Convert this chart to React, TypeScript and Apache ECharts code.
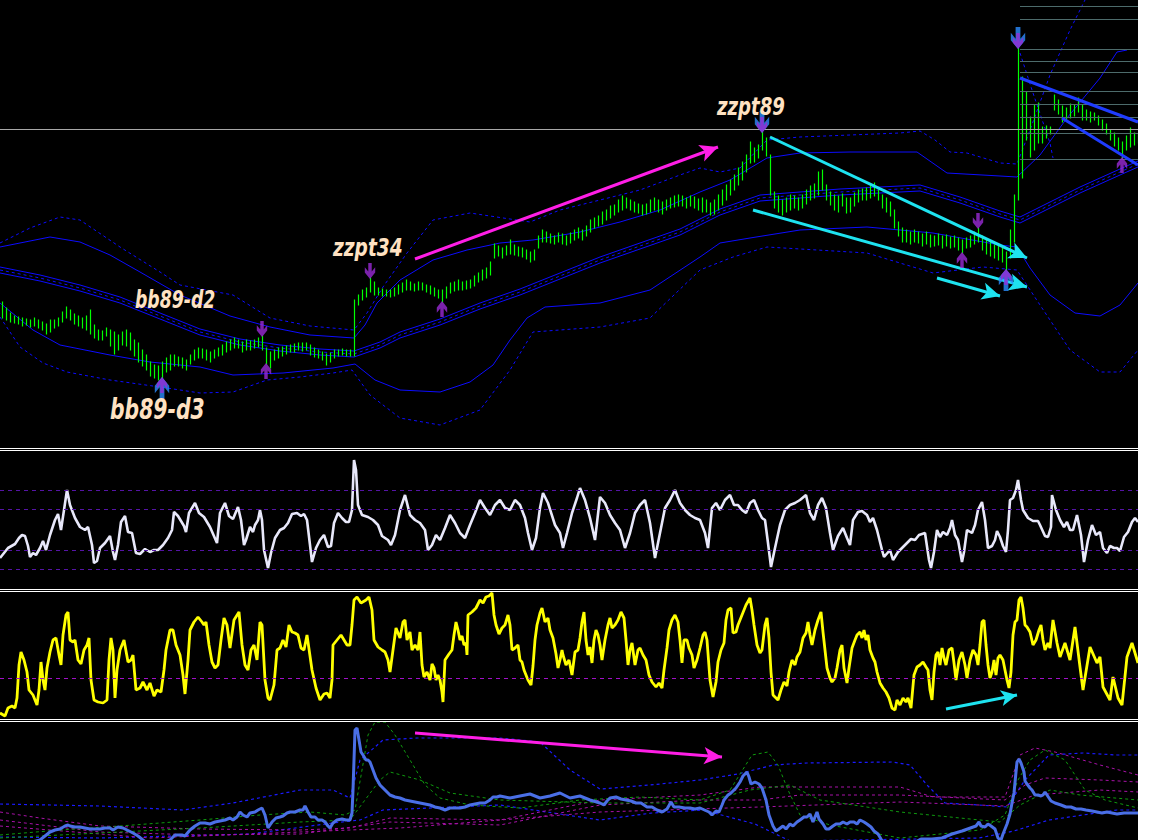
import React, { useEffect, useRef } from "react";
import * as echarts from "echarts";

// ---------- price bars: one bar every 4 time units (bar i sits at t = 2 + 4i) ----------
const barLows = [
  132,130,128,127,126,124,125,123,124,122,
  120,116,118,122,124,128,132,130,126,124,
  122,120,116,112,110,110,114,104,96,100,
  105,104,100,94,88,84,80,74,72,70,
  72,78,80,84,84,82,80,86,90,92,
  92,90,88,92,94,95,98,100,102,102,
  98,100,100,102,103,100,86,82,90,92,
  94,96,98,98,100,99,100,95,93,92,
  90,85,88,92,94,95,94,94,94,145,
  150,153,158,155,155,154,154,153,154,156,
  158,160,160,159,160,160,158,156,154,152,
  148,152,157,159,160,160,161,162,164,168,
  170,172,175,192,194,192,195,196,195,194,
  193,191,188,190,202,208,208,207,206,208,
  206,205,207,210,212,210,214,218,222,224,
  226,230,232,235,238,240,242,240,238,237,
  235,236,238,240,238,236,240,242,243,244,
  244,242,244,242,240,238,238,235,236,240,
  245,250,255,260,265,270,278,287,288,292,
  300,294,255,242,238,235,238,240,242,240,
  242,246,250,252,255,260,250,245,240,238,
  244,237,238,244,248,250,250,252,254,250,
  242,238,234,222,214,208,208,206,208,207,
  204,206,203,204,205,202,204,202,203,200,
  197,202,203,206,208,200,196,194,192,190,
  188,180,192,208,250,272,310,293,300,307,
  307,312,316,340,336,328,330,332,334,338,
  330,330,328,330,325,320,316,310,304,300,
  292,300,303,305,307,
];
const barHighs = [
  148,142,137,134,133,132,131,130,132,130,
  128,126,130,130,132,138,143,140,136,134,
  132,134,140,125,120,119,122,120,118,115,
  118,120,117,110,107,100,95,88,85,84,
  88,92,95,95,93,92,90,95,100,102,
  101,100,98,100,102,105,108,110,112,110,
  108,110,109,110,112,114,102,98,100,102,
  103,104,105,106,107,107,107,105,102,100,
  98,96,97,100,100,101,100,100,150,155,
  160,162,172,168,162,161,160,160,162,165,
  167,170,168,166,168,167,165,164,162,160,
  160,163,167,168,170,168,169,170,174,177,
  180,182,188,206,204,202,204,210,205,203,
  202,200,198,200,214,220,218,216,214,217,
  216,214,217,220,222,220,224,230,232,234,
  238,240,244,245,250,254,252,250,248,246,
  245,246,250,252,250,248,250,252,254,255,
  254,252,254,253,251,252,250,247,250,255,
  260,265,270,275,282,288,295,308,302,305,
  318,312,295,258,254,250,252,255,254,252,
  255,260,264,266,278,280,265,258,255,254,
  256,252,252,257,260,261,262,264,267,260,
  255,252,248,240,228,222,220,218,220,218,
  216,218,215,214,216,214,215,213,214,212,
  210,212,214,218,222,214,210,208,205,204,
  202,198,220,255,402,373,358,333,345,347,
  323,324,323,355,350,344,342,346,345,352,
  345,340,338,337,334,330,326,320,317,312,
  308,314,322,317,316,
];

const fractalDownIdx = [65, 92, 190, 244, 254];
const fractalUpIdx = [40, 66, 110, 240, 251, 280];
const fractalDownStrongIdx = [190, 254];
const fractalUpStrongIdx = [40, 251];

// ---------- Bollinger 89 bands on price ----------
const bandUpper3 = [[0,207],[30,222],[60,233],[80,230],[120,203],[160,178],[180,165],[233,155],[270,132],[310,124],[354,120],[367,137],[383,163],[407,197],[433,230],[470,237],[530,228],[560,240],[600,250],[640,260],[680,275],[700,282],[720,278],[740,282],[767,310],[800,313],[850,315],[900,317],[920,319],[935,310],[950,298],[967,297],[1000,287],[1017,286],[1030,320],[1050,375],[1070,420],[1085,450]];
const bandUpper2 = [[0,203],[50,213],[80,208],[110,195],[140,178],[180,155],[230,134],[270,123],[310,115],[354,112],[365,125],[377,147],[400,170],[433,190],[467,200],[500,207],[533,210],[580,218],[620,228],[660,240],[700,258],[730,270],[767,292],[800,297],[850,298],[917,298],[947,277],[1000,274],[1017,273],[1040,295],[1067,332],[1100,372],[1117,398],[1127,400]];
const bandMidTop = [[0,183],[40,175],[80,165],[120,153],[160,137],[200,121],[240,111],[280,105],[320,101],[354,99],[380,108],[400,118],[440,131],[480,147],[520,161],[560,177],[600,193],[640,207],[680,221],[720,241],[760,255],[800,258],[840,261],[880,263],[920,265],[960,253],[1000,239],[1020,233],[1040,243],[1060,253],[1080,263],[1100,272],[1120,281],[1138,289]];
const bandMid = [[0,180],[40,172],[80,162],[120,150],[160,134],[200,118],[240,108],[280,102],[320,98],[354,96],[380,105],[400,115],[440,128],[480,144],[520,158],[560,174],[600,190],[640,204],[680,218],[720,238],[760,252],[800,255],[840,258],[880,260],[920,262],[960,250],[1000,236],[1020,230],[1040,240],[1060,250],[1080,260],[1100,269],[1120,278],[1138,286]];
const bandMidBottom = [[0,177],[40,169],[80,159],[120,147],[160,131],[200,115],[240,105],[280,99],[320,95],[354,93],[380,102],[400,112],[440,125],[480,141],[520,155],[560,171],[600,187],[640,201],[680,215],[720,235],[760,249],[800,252],[840,255],[880,257],[920,259],[960,247],[1000,233],[1020,227],[1040,237],[1060,247],[1080,257],[1100,266],[1120,275],[1138,283]];
const bandLower2 = [[0,147],[33,120],[60,105],[110,95],[150,88],[200,83],[233,75],[283,77],[333,82],[355,86],[375,70],[400,60],[440,58],[470,68],[493,85],[510,110],[527,132],[545,143],[600,147],[650,160],[700,193],[720,207],[750,212],[800,220],[867,223],[933,217],[1000,205],[1017,203],[1030,182],[1050,155],[1075,137],[1100,134],[1120,145],[1138,167]];
const bandLower3 = [[0,133],[20,103],[43,87],[67,78],[110,70],[167,62],[200,57],[233,58],[267,70],[300,73],[333,77],[352,80],[370,55],[400,32],[440,25],[480,40],[510,80],[533,118],[600,123],[650,132],[700,180],[733,193],[767,203],[867,197],[933,177],[983,183],[1017,180],[1040,145],[1070,100],[1100,78],[1120,78],[1138,100]];
const bandShort = [[1020,397],[1033,357],[1050,307],[1053,292]];

// ---------- levels and drawings on price ----------
const refLevel = 321;
const fibLevels = [444, 431, 401, 389, 378, 359, 346, 333, 317, 291];
const fibRange = [1020, 1138];
const magentaTrend = [[415, 191], [718, 303]];
const cyanTrends = [
  [[770, 313], [1027, 192]],
  [[753, 240], [1027, 163]],
  [[937, 172], [1000, 154]],
];
const blueChannel = [
  [[1020, 372], [1138, 328]],
  [[1062, 332], [1138, 285]],
];

// ---------- oscillator 1 (lavender) ----------
const osc1 = [[0,30],[8,40],[15,44],[19,50],[22,53],[25,52],[28,42],[30,31],[33,35],[36,33],[40,40],[43,47],[46,38],[50,53],[55,68],[58,74],[61,58],[64,78],[67,98],[70,83],[75,70],[80,61],[85,58],[88,61],[92,43],[94,25],[97,27],[100,40],[105,45],[110,52],[113,36],[115,28],[118,43],[121,66],[125,72],[128,56],[132,55],[136,35],[140,34],[145,39],[150,36],[154,38],[158,38],[163,43],[168,50],[172,58],[174,76],[178,72],[184,62],[186,56],[189,75],[195,85],[199,75],[204,71],[210,61],[217,45],[220,75],[225,85],[229,72],[233,69],[238,81],[241,68],[244,43],[246,48],[250,61],[253,56],[255,63],[258,68],[260,78],[262,68],[264,38],[268,20],[271,35],[275,50],[280,58],[284,60],[288,65],[292,74],[297,75],[301,72],[304,74],[307,68],[310,43],[312,26],[316,40],[320,48],[324,53],[328,41],[331,42],[334,65],[338,75],[342,70],[346,66],[349,66],[352,78],[354,128],[356,118],[358,83],[362,73],[368,71],[373,68],[378,63],[382,52],[388,48],[391,43],[395,53],[400,78],
  [405,93],[410,73],[415,68],[420,65],[425,58],[428,38],[432,43],[436,53],[440,48],[445,60],[450,73],[455,65],[460,55],[465,50],[470,63],[475,75],[480,88],[485,80],[490,73],[495,83],[500,88],[505,80],[510,78],[515,88],[520,83],[525,70],[528,55],[532,38],[536,50],[540,80],[543,95],[548,85],[555,63],[560,55],[563,40],[567,55],[572,75],[577,90],[580,100],[585,88],[590,70],[595,48],[600,91],[605,85],[610,73],[615,65],[620,58],[625,40],[630,55],[635,75],[640,83],[645,88],[650,65],[655,30],[660,55],[665,80],[670,88],[675,98],[680,85],[685,78],[690,73],[695,70],[700,68],[705,55],[708,40],[712,80],[716,85],[720,78],[725,88],[730,93],[734,83],[738,83],[742,78],[746,75],[750,85],[754,88],[758,78],[762,70],[765,68],[768,45],[771,21],[775,40],[780,63],[785,78],[790,83],[795,85],[800,88],[806,93],[810,75],[814,68],[818,83],[822,90],[826,80],[830,55],[833,38],[838,52],[843,60],[847,50],
  [850,43],[853,68],[858,76],[862,77],[867,73],[870,66],[873,70],[877,58],[882,38],[884,31],[890,38],[893,28],[898,36],[905,43],[911,49],[915,48],[919,53],[925,55],[929,28],[931,20],[934,36],[937,58],[940,51],[943,56],[947,53],[950,60],[952,68],[955,53],[958,48],[962,26],[964,36],[967,58],[972,55],[975,63],[978,78],[982,86],[985,68],[988,40],[992,42],[995,48],[997,57],[1000,51],[1003,42],[1006,36],[1008,58],[1010,88],[1013,90],[1016,98],[1018,108],[1021,88],[1023,78],[1028,70],[1033,67],[1038,67],[1040,63],[1045,52],[1048,51],[1051,61],[1052,93],[1056,78],[1060,68],[1064,61],[1067,66],[1070,58],[1073,58],[1077,73],[1081,53],[1084,26],[1088,48],[1092,63],[1096,53],[1100,56],[1103,40],[1107,35],[1110,42],[1114,40],[1117,40],[1120,37],[1124,51],[1128,56],[1132,66],[1135,70],[1138,66]];
const osc1Levels = [98, 79, 38, 19];

// ---------- oscillator 2 (yellow) ----------
const osc2 = [[0,5],[5,2],[8,10],[12,12],[15,10],[17,20],[19,53],[21,66],[24,58],[27,46],[29,28],[33,23],[37,13],[39,28],[41,56],[43,38],[45,28],[47,50],[50,66],[53,78],[56,80],[59,63],[61,53],[63,83],[66,103],[68,106],[70,78],[73,76],[75,78],[78,58],[81,54],[84,68],[87,73],[89,80],[91,38],[94,18],[98,16],[103,15],[107,18],[109,58],[111,80],[113,68],[115,20],[117,48],[120,68],[124,78],[128,56],[131,58],[133,63],[136,28],[140,30],[143,36],[147,28],[150,35],[154,22],[157,28],[161,26],[164,48],[166,68],[170,88],[173,88],[176,73],[180,63],[183,43],[185,24],[188,58],[190,88],[194,96],[198,101],[202,96],[204,93],[206,96],[209,73],[212,56],[215,50],[218,53],[221,78],[224,100],[227,93],[230,70],[234,98],[239,106],[242,73],[245,53],[248,48],[251,68],[254,73],[257,58],[260,96],[262,93],[265,38],[268,20],[270,18],[274,33],[277,68],[280,70],[283,78],[286,71],[289,93],[292,86],[295,85],[298,83],[301,70],[304,68],[307,83],[312,48],[316,30],[320,18],[324,24],[327,25],[330,20],[332,38],[333,73],[337,78],[341,83],[344,78],[347,73],[350,73],[352,93],[354,118],[357,121],[361,115],[366,118],[369,121],[372,108],[374,78],[378,71],[382,68],[385,66],[388,58],[390,46],[393,68],[396,90],[400,80],
  [403,96],[405,98],[407,78],[410,86],[412,68],[415,73],[418,68],[420,86],[422,53],[424,41],[427,46],[430,38],[432,54],[434,50],[436,38],[438,43],[440,38],[442,26],[443,16],[445,58],[449,64],[452,68],[454,83],[456,96],[458,88],[460,78],[462,82],[464,73],[466,75],[467,63],[468,103],[472,106],[476,110],[480,118],[483,115],[486,121],[489,122],[492,125],[494,103],[496,93],[499,84],[502,90],[505,93],[508,103],[510,93],[512,68],[515,70],[518,73],[520,58],[522,56],[524,48],[526,43],[528,38],[531,33],[533,52],[535,78],[537,93],[540,105],[542,110],[545,96],[548,100],[550,88],[553,80],[556,64],[558,50],[560,58],[562,68],[563,63],[566,53],[569,58],[572,43],[575,66],[578,68],[580,80],[582,96],[584,106],[586,78],[588,63],[590,71],[592,55],[594,78],[596,88],[598,83],[600,73],[602,58],[605,78],[608,93],[610,100],[612,90],[615,93],[618,98],[621,106],[624,100],[626,78],[628,53],[630,68],[632,75],[635,53],[638,68],[640,70],[643,63],[646,58],[649,43],[652,36],[656,31],[659,35],[662,30],[664,48],[667,70],[669,88],[672,98],[675,103],[678,96],[680,78],[682,55],[684,78],[687,78],[689,70],[692,63],[694,50],[697,58],[700,70],[703,83],[705,86],[707,78],[710,38],[713,21],[716,36],[718,56],[721,68],[724,75],[726,98],[728,108],[731,110],[733,85],[736,86],[738,93],[742,103],[746,113],[750,120],[752,108],[754,93],[757,73],[760,65],[762,68],[765,93],[767,100],[769,80],[771,46],[773,23],[776,20],[778,18],[781,28],[784,36],[787,32],[789,46],[792,58],[795,53],[797,61],[800,66],
  [803,80],[806,85],[808,96],[810,83],[812,73],[815,88],[818,98],[821,106],[823,86],[825,68],[827,50],[830,40],[832,36],[835,40],[837,50],[840,68],[842,73],[844,50],[847,35],[849,50],[852,70],[855,78],[857,83],[860,86],[862,80],[864,88],[866,78],[868,83],[870,68],[873,60],[875,56],[877,46],[880,35],[883,30],[886,26],[889,20],[892,10],[895,8],[897,18],[900,13],[903,20],[906,16],[908,20],[911,10],[914,43],[917,51],[920,53],[923,56],[926,51],[928,48],[930,28],[932,18],[934,46],[936,63],[938,66],[940,53],[942,70],[944,60],[946,53],[949,68],[952,70],[954,55],[956,38],[959,58],[962,66],[965,53],[967,40],[970,58],[973,68],[976,63],[978,53],[980,73],[982,96],[984,98],[986,73],[988,53],[990,40],[992,46],[994,58],[996,43],[998,60],[1000,63],[1003,58],[1005,48],[1007,38],[1009,30],[1011,46],[1013,83],[1015,96],[1017,98],[1019,118],[1021,121],[1023,110],[1025,93],[1027,91],[1030,86],[1033,73],[1036,78],[1039,88],[1041,93],[1043,78],[1045,68],[1048,75],[1050,70],[1053,98],[1057,75],[1060,61],[1065,75],[1070,58],[1075,91],[1080,51],[1083,28],[1090,71],[1097,55],[1100,61],[1103,31],[1110,18],[1113,41],[1118,20],[1122,13],[1127,61],[1132,75],[1138,55]];
const osc2Level = 40;
const cyanOsc2 = [[946, 9], [1017, 23]];

// ---------- volatility panel ----------
const vol = [[0,-8],[20,-5],[40,0],[45,4],[50,8],[55,10],[60,11],[65,14],[68,15],[70,14],[75,13],[80,13],[85,12],[90,11],[95,11],[100,11],[105,12],[110,12],[113,10],[118,13],[123,12],[127,10],[133,7],[138,4],[143,0],[150,-5],[160,-4],[170,0],[175,5],[182,5],[185,4],[190,10],[195,14],[200,17],[205,17],[210,16],[215,18],[220,19],[225,20],[230,22],[233,20],[237,23],[240,28],[243,25],[247,23],[250,27],[255,28],[258,30],[262,32],[265,25],[268,12],[272,18],[276,22],[280,23],[283,24],[287,27],[290,28],[295,28],[300,30],[303,30],[305,34],[308,28],[311,23],[315,23],[318,20],[322,20],[325,18],[328,14],[330,12],[333,17],[337,20],[342,21],[346,20],[350,20],[352,27],[353,50],[354,80],[355,110],[357,112],[359,100],[361,88],[363,85],[366,80],[368,80],[370,78],[373,70],[376,62],[380,55],[385,50],[390,45],[395,43],[400,42],[405,40],[410,39],[415,38],[420,37],[425,36],[430,35],[435,33],[440,32],[445,30],[450,32],[455,32],[460,32],[465,33],[470,35],[475,36],[480,37],[485,37],[490,40],[493,43],[497,43],[500,44],[510,42],[520,44],[530,46],[540,42],[550,44],[560,47],[570,42],[580,44],[590,40],
  [600,37],[604,35],[607,39],[610,42],[616,43],[621,41],[626,40],[631,39],[636,37],[641,37],[647,33],[652,33],[657,30],[662,28],[667,31],[671,38],[674,33],[679,33],[685,32],[690,32],[695,31],[700,32],[709,28],[712,25],[716,29],[719,28],[722,35],[724,40],[728,45],[731,47],[736,52],[740,58],[743,64],[747,68],[749,63],[751,56],[755,58],[759,56],[762,52],[766,40],[769,25],[773,14],[776,9],[779,11],[783,14],[786,11],[790,16],[793,14],[797,18],[800,20],[804,23],[807,23],[810,26],[813,18],[817,28],[819,21],[823,16],[826,11],[829,11],[833,14],[836,16],[840,16],[843,18],[847,16],[850,18],[854,18],[857,16],[860,20],[864,18],[867,16],[871,13],[874,9],[878,6],[881,1],[885,-5],[910,-5],[921,1],[932,1],[942,2],[952,6],[962,9],[976,14],[979,18],[981,14],[985,13],[988,16],[991,14],[995,11],[998,2],[1001,0],[1003,6],[1007,16],[1010,26],[1012,37],[1014,47],[1016,68],[1017,78],[1019,81],[1021,77],[1024,68],[1025,59],[1027,56],[1030,52],[1032,50],[1035,45],[1038,45],[1041,44],[1043,45],[1045,48],[1049,42],[1051,39],[1055,37],[1061,35],[1066,33],[1071,33],[1076,31],[1081,31],[1086,30],[1092,29],[1102,27],[1107,28],[1112,27],[1117,26],[1124,27],[1131,27],[1138,27]];
const volBandUpper = [[0,36],[100,34],[183,30],[233,37],[300,50],[333,50],[350,42],[360,80],[383,100],[417,102],[500,102],[540,98],[570,70],[600,51],[650,55],[700,60],[738,66],[773,75],[807,77],[893,78],[910,75],[928,54],[945,37],[979,35],[1007,33],[1025,60],[1049,85],[1083,87],[1117,85],[1138,85]];
const volBandLower = [[0,3],[100,2],[250,6],[333,17],[360,20],[383,30],[500,35],[600,20],[652,27],[703,30],[755,16],[790,-1],[979,2],[1014,9],[1049,20],[1117,30],[1138,30]];
const volGreenFast = [[0,5],[60,10],[120,14],[200,20],[260,25],[310,28],[345,25],[355,30],[362,70],[368,105],[375,118],[385,118],[395,105],[410,80],[425,55],[440,42],[470,35],[520,32],[580,40],[640,43],[700,40],[730,50],[752,85],[768,88],[778,75],[788,50],[800,25],[830,15],[900,2],[980,10],[1005,25],[1018,60],[1030,80],[1045,90],[1065,80],[1085,50],[1105,40],[1138,32]];
const volGreenSlow = [[0,2],[100,7],[200,12],[300,18],[350,20],[365,40],[380,60],[390,68],[420,60],[450,47],[500,40],[600,37],[700,37],[750,50],[790,55],[820,40],[900,28],[1000,18],[1020,35],[1050,50],[1080,45],[1138,40]];
const volMagentaA = [[0,28],[40,22],[100,14],[200,11],[300,10],[350,12],[390,22],[500,20],[600,40],[700,45],[760,53],[800,53],[900,53],[933,43],[1005,43],[1020,85],[1035,92],[1055,88],[1100,75],[1138,65]];
const volMagentaB = [[0,20],[100,8],[200,5],[300,6],[390,18],[500,15],[600,35],[700,40],[760,40],[800,45],[900,45],[1005,40],[1025,55],[1045,62],[1100,60],[1138,58]];
const volMagentaC = [[0,14],[150,2],[400,12],[600,28],[760,33],[900,38],[1005,34],[1035,45],[1100,50],[1138,48]];
const magentaVol = [[415, 107], [722, 83]];

// ---------- text annotations ----------
const annotations = [
  { text: "zzpt34", x: 333, y: 247, size: 24, squeeze: 0.86 },
  { text: "zzpt89", x: 717, y: 106, size: 24, squeeze: 0.84 },
  { text: "bb89-d2", x: 135, y: 300, size: 24, squeeze: 0.8 },
  { text: "bb89-d3", x: 110, y: 409, size: 29, squeeze: 0.78 },
];

const DOWN_ARROW = "path://M4,0L8,0L8,8L12,4L12,9L6,15L0,9L0,4L4,8Z";
const UP_ARROW = "path://M4,15L8,15L8,7L12,11L12,6L6,0L0,6L0,11L4,7Z";

function barTime(i: number) {
  return 2 + 4 * i;
}

function lineS(data: number[][], grid: number, color: string, width: number, type: any = "solid", z = 2, extra: any = {}) {
  return {
    type: "line",
    xAxisIndex: grid,
    yAxisIndex: grid,
    data,
    symbol: "none",
    silent: true,
    clip: true,
    z,
    lineStyle: { color, width, type },
    ...extra,
  };
}

function buildOption() {
  const grids = [
    { left: 0, top: 0, width: 1138, height: 448 },
    { left: 0, top: 451, width: 1138, height: 138 },
    { left: 0, top: 592, width: 1138, height: 127 },
    { left: 0, top: 722, width: 1138, height: 118 },
  ];
  const yRanges = [
    [2, 450],
    [-1, 137],
    [-1, 126],
    [0, 118],
  ];
  const xAxis = grids.map((_, k) => ({ type: "value", gridIndex: k, min: 0, max: 1138, show: false }));
  const yAxis = grids.map((_, k) => ({ type: "value", gridIndex: k, min: yRanges[k][0], max: yRanges[k][1], show: false }));

  const dash: any = [3, 3];
  const blue = "#0c0cff";

  const barData = barLows.map((lo, i) => [barTime(i), lo, barHighs[i]]);

  const series: any[] = [
    lineS(bandUpper3, 0, blue, 1, dash, 2, {
      markLine: {
        silent: true,
        symbol: "none",
        label: { show: false },
        data: [
          { yAxis: refLevel, lineStyle: { color: "#a8a8a8", width: 1, type: "solid" } },
          ...fibLevels.map((v) => [
            { coord: [fibRange[0], v], lineStyle: { color: "#4d6b6b", width: 1, type: "solid" } },
            { coord: [fibRange[1], v] },
          ]),
        ],
      },
    }),
    lineS(bandUpper2, 0, blue, 1),
    lineS(bandMidTop, 0, blue, 1),
    lineS(bandMid, 0, blue, 1, dash),
    lineS(bandMidBottom, 0, blue, 1),
    lineS(bandLower2, 0, blue, 1),
    lineS(bandLower3, 0, blue, 1, dash),
    lineS(bandShort, 0, blue, 1, dash),
    {
      type: "custom",
      xAxisIndex: 0,
      yAxisIndex: 0,
      data: barData,
      encode: { x: 0, y: [1, 2] },
      silent: true,
      clip: true,
      z: 4,
      renderItem: (_p: any, api: any) => {
        const t = api.value(0);
        const a = api.coord([t, api.value(1)]);
        const b = api.coord([t, api.value(2)]);
        const x = Math.round(a[0]) + 0.5;
        return {
          type: "line",
          shape: { x1: x, y1: a[1] + 0.5, x2: x, y2: b[1] - 0.5 },
          style: { stroke: "#00ff00", lineWidth: 1.2 },
        };
      },
    },
    // annotation arrows on price
    lineS([[-10, -100]], 0, "#000", 0, "solid", 6, {
      markLine: {
        silent: true,
        symbol: ["none", "arrow"],
        symbolSize: [13, 18],
        label: { show: false },
        data: [
          [
            { coord: magentaTrend[0], lineStyle: { color: "#ff1ee6", width: 3, type: "solid" } },
            { coord: magentaTrend[1] },
          ],
          ...cyanTrends.map((seg) => [
            { coord: seg[0], lineStyle: { color: "#1ee3f0", width: 3, type: "solid" } },
            { coord: seg[1] },
          ]),
          ...blueChannel.map((seg) => [
            { coord: seg[0], symbol: "none", lineStyle: { color: "#1f3cff", width: 3, type: "solid" } },
            { coord: seg[1], symbol: "none" },
          ]),
        ],
      },
    }),
    {
      type: "scatter",
      xAxisIndex: 0,
      yAxisIndex: 0,
      silent: true,
      z: 7,
      symbol: DOWN_ARROW,
      symbolKeepAspect: true,
      symbolSize: [18, 22],
      symbolOffset: [0, -10],
      itemStyle: { color: "#2a8cff" },
      data: fractalDownStrongIdx.map((i) => [barTime(i), barHighs[i]]),
    },
    {
      type: "scatter",
      xAxisIndex: 0,
      yAxisIndex: 0,
      silent: true,
      z: 7,
      symbol: UP_ARROW,
      symbolKeepAspect: true,
      symbolSize: [18, 22],
      symbolOffset: [0, 10],
      itemStyle: { color: "#2a8cff" },
      data: fractalUpStrongIdx.map((i) => [barTime(i), barLows[i]]),
    },
    {
      type: "scatter",
      xAxisIndex: 0,
      yAxisIndex: 0,
      silent: true,
      z: 8,
      symbol: DOWN_ARROW,
      symbolKeepAspect: true,
      symbolSize: [13, 16],
      symbolOffset: [0, -7],
      itemStyle: { color: "#9a2bd6" },
      data: fractalDownIdx.map((i) => [barTime(i), barHighs[i]]),
    },
    {
      type: "scatter",
      xAxisIndex: 0,
      yAxisIndex: 0,
      silent: true,
      z: 8,
      symbol: UP_ARROW,
      symbolKeepAspect: true,
      symbolSize: [13, 16],
      symbolOffset: [0, 7],
      itemStyle: { color: "#9a2bd6" },
      data: fractalUpIdx.map((i) => [barTime(i), barLows[i]]),
    },
    // oscillator 1
    lineS(osc1, 1, "#e8e8fa", 2.6, "solid", 3, {
      markLine: {
        silent: true,
        symbol: "none",
        label: { show: false },
        lineStyle: { color: "#5514a6", width: 1, type: [4, 4] },
        data: osc1Levels.map((v) => ({ yAxis: v })),
      },
    }),
    // oscillator 2
    lineS(osc2, 2, "#ffff00", 2.8, "solid", 3, {
      markLine: {
        silent: true,
        symbol: "none",
        label: { show: false },
        lineStyle: { color: "#a010c8", width: 1, type: [4, 4] },
        data: [
          { yAxis: osc2Level },
          [
            { coord: cyanOsc2[0], symbol: "none", lineStyle: { color: "#1ee3f0", width: 3, type: "solid" } },
            { coord: cyanOsc2[1], symbol: "arrow", symbolSize: [12, 16] },
          ],
        ],
      },
    }),
    // volatility panel
    lineS(volBandUpper, 3, "#1a1aff", 1.2, dash),
    lineS(volBandLower, 3, "#1a1aff", 1.2, dash),
    lineS(volMagentaA, 3, "#a812a8", 1, dash),
    lineS(volMagentaB, 3, "#a812a8", 1, dash),
    lineS(volMagentaC, 3, "#a812a8", 1, dash),
    lineS(volGreenFast, 3, "#0f9a0f", 1, dash),
    lineS(volGreenSlow, 3, "#0f9a0f", 1, dash),
    lineS(vol, 3, "#4a6fe6", 3, "solid", 4, {
      markLine: {
        silent: true,
        symbol: "none",
        label: { show: false },
        data: [
          [
            { coord: magentaVol[0], symbol: "none", lineStyle: { color: "#ff1ee6", width: 3, type: "solid" } },
            { coord: magentaVol[1], symbol: "arrow", symbolSize: [13, 18] },
          ],
        ],
      },
    }),
  ];

  const sepY = [448.5, 450.5, 589.5, 591.5, 719.5, 721.5];
  const graphic: any[] = [
    ...sepY.map((y) => ({
      type: "line",
      silent: true,
      z: 50,
      shape: { x1: 0, y1: y, x2: 1138, y2: y },
      style: { stroke: "#ffffff", lineWidth: 1 },
    })),
    {
      type: "rect",
      silent: true,
      z: 60,
      shape: { x: 1138, y: 0, width: 16, height: 840 },
      style: { fill: "#ffffff" },
    },
    ...annotations.map((a) => ({
      type: "text",
      silent: true,
      z: 55,
      x: a.x,
      y: a.y,
      scaleX: a.squeeze,
      style: {
        text: a.text,
        fill: "#ffe2c2",
        font: `italic bold ${a.size}px "Liberation Sans Narrow", "DejaVu Sans Condensed", sans-serif`,
        align: "left",
        verticalAlign: "middle",
      },
    })),
  ];

  return {
    animation: false,
    backgroundColor: "#000000",
    grid: grids,
    xAxis,
    yAxis,
    series,
    graphic,
  };
}

export default function App() {
  const ref = useRef<HTMLDivElement>(null);
  useEffect(() => {
    if (!ref.current) return;
    const chart = echarts.init(ref.current, null, { renderer: "svg" });
    chart.setOption(buildOption() as any);
    return () => chart.dispose();
  }, []);
  return (
    <div
      ref={ref}
      style={{ position: "fixed", left: 0, top: 0, width: 1154, height: 840 }}
    />
  );
}
